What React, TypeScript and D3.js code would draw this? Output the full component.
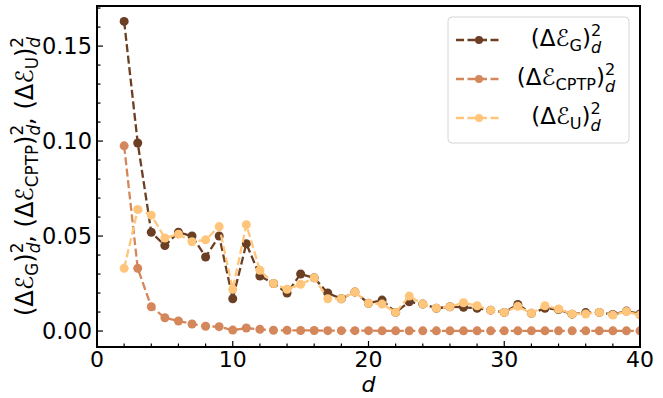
import React from "react";
import * as d3 from "d3";

// d = 2 .. 40
const dims = d3.range(2, 41);

const errG = [
  0.163, 0.099, 0.052, 0.045, 0.052, 0.05, 0.039, 0.05, 0.017, 0.046, 0.029,
  0.025, 0.02, 0.03, 0.028, 0.02, 0.017, 0.0205, 0.0146, 0.0163, 0.0098,
  0.0154, 0.0142, 0.012, 0.0128, 0.0125, 0.012, 0.011, 0.0098, 0.014, 0.0093,
  0.012, 0.0113, 0.0089, 0.0097, 0.0098, 0.0087, 0.0105, 0.009,
];
const errCPTP = [
  0.0975, 0.033, 0.0128, 0.007, 0.0053, 0.0037, 0.0025, 0.0023, 0.0005,
  0.0016, 0.0009, 0.0004, 0.0004, 0.0003, 0.0003, 0.0002, 0.0002, 0.0002,
  0.0002, 0.0001, 0.0001, 0.0001, 0.0001, 0.0001, 0.0001, 0.0001, 0.0001,
  0.0001, 0.0001, 0.0001, 0.0001, 0.0001, 0.0001, 0.0001, 0.0001, 0.0001,
  0.0001, 0.0001, 0.0001,
];
const errU = [
  0.033, 0.064, 0.061, 0.049, 0.051, 0.047, 0.048, 0.055, 0.022, 0.056, 0.032,
  0.025, 0.022, 0.0246, 0.028, 0.017, 0.017, 0.0205, 0.0146, 0.0142, 0.0098,
  0.0184, 0.0142, 0.012, 0.0128, 0.0149, 0.0133, 0.011, 0.0098, 0.013, 0.0093,
  0.0133, 0.0116, 0.009, 0.009, 0.0098, 0.0084, 0.0103, 0.0084,
];

const seriesNames = ["G", "CPTP", "U"];
const seriesColors = ["#6b3f23", "#d4875a", "#ffc57a"];
const seriesValues = [errG, errCPTP, errU];

const xTicks = [0, 10, 20, 30, 40];
const yTicks = [0, 0.05, 0.1, 0.15];

const W = 663;
const H = 398;
const left = 97;
const right = 640;
const top = 6;
const bottom = 347;

const FONT = "'DejaVu Sans', sans-serif";

function MathErr({ sub, s }: { sub: string; s: number }) {
  const k = 0.7 * s;
  return (
    <>
      <tspan>(Δℰ</tspan>
      <tspan fontSize={k} dy={0.22 * s}>{sub}</tspan>
      <tspan dy={-0.22 * s}>)</tspan>
      <tspan fontSize={k} dy={-0.42 * s}>2</tspan>
      <tspan fontSize={k} fontStyle="italic" dx={-k * 0.636} dy={0.72 * s}>
        d
      </tspan>
    </>
  );
}

export default function App() {
  const x = d3.scaleLinear().domain([0, 40]).range([left, right]);
  const y = d3.scaleLinear().domain([-0.0084, 0.1711]).range([bottom, top]);
  const line = d3
    .line<[number, number]>()
    .x((p) => x(p[0]))
    .y((p) => y(p[1]));

  const xMinor = d3.range(0, 41, 2);
  const yMinor = d3.range(0, 0.171, 0.01);

  const s = 23; // legend text size
  const ys = 24; // y label text size

  return (
    <div>
      <style>{`body{margin:0}`}</style>
      <svg width={W} height={H} style={{ display: "block", fontFamily: FONT }}>
        <rect width={W} height={H} fill="white" />

        <defs>
          <clipPath id="plot">
            <rect x={left} y={top} width={right - left} height={bottom - top} />
          </clipPath>
        </defs>

        {/* series */}
        <g clipPath="url(#plot)">
          {seriesValues.map((vals, i) => {
            const pts = dims.map((d, j) => [d, vals[j]] as [number, number]);
            return (
              <g key={seriesNames[i]}>
                <path
                  d={line(pts) || ""}
                  fill="none"
                  stroke={seriesColors[i]}
                  strokeWidth={2.3}
                  strokeDasharray="8,3.5"
                />
                {pts.map((p) => (
                  <circle
                    key={p[0]}
                    cx={x(p[0])}
                    cy={y(p[1])}
                    r={4.5}
                    fill={seriesColors[i]}
                  />
                ))}
              </g>
            );
          })}
        </g>

        {/* ticks, inward */}
        {xMinor.map((v) => (
          <line
            key={"xm" + v}
            x1={x(v)}
            x2={x(v)}
            y1={bottom}
            y2={bottom - (v % 10 === 0 ? 6 : 3.5)}
            stroke="black"
            strokeWidth={1.2}
          />
        ))}
        {yMinor.map((v, i) => (
          <line
            key={"ym" + i}
            x1={left}
            x2={left + (i % 5 === 0 ? 6 : 3.5)}
            y1={y(v)}
            y2={y(v)}
            stroke="black"
            strokeWidth={1.2}
          />
        ))}

        <rect
          x={left}
          y={top}
          width={right - left}
          height={bottom - top}
          fill="none"
          stroke="black"
          strokeWidth={2}
        />

        {xTicks.map((v) => (
          <text
            key={"xt" + v}
            x={x(v)}
            y={367}
            textAnchor="middle"
            fontSize={22}
            fill="black"
          >
            {v}
          </text>
        ))}
        {yTicks.map((v) => (
          <text
            key={"yt" + v}
            x={92}
            y={y(v)}
            dy="0.36em"
            textAnchor="end"
            fontSize={22.5}
            fill="black"
          >
            {v.toFixed(2)}
          </text>
        ))}

        <text
          x={(left + right) / 2}
          y={392}
          textAnchor="middle"
          fontSize={22}
          fontStyle="italic"
        >
          d
        </text>

        <text
          transform={`translate(33,${(top + bottom) / 2}) rotate(-90)`}
          textAnchor="middle"
          fontSize={ys}
        >
          <MathErr sub="G" s={ys} />
          <tspan dy={-0.3 * ys}>, </tspan>
          <MathErr sub="CPTP" s={ys} />
          <tspan dy={-0.3 * ys}>, </tspan>
          <MathErr sub="U" s={ys} />
        </text>

        {/* legend */}
        <rect
          x={448}
          y={17}
          width={181}
          height={126}
          rx={4}
          fill="white"
          fillOpacity={0.8}
          stroke="#d6d6d6"
          strokeWidth={1}
        />
        {seriesNames.map((n, i) => {
          const ly = 40 + i * 39;
          return (
            <g key={"lg" + n}>
              <line
                x1={456}
                x2={502}
                y1={ly}
                y2={ly}
                stroke={seriesColors[i]}
                strokeWidth={2.3}
                strokeDasharray="8,3.5"
              />
              <circle cx={479} cy={ly} r={4} fill={seriesColors[i]} />
              <text x={566} y={ly + 6} textAnchor="middle" fontSize={s}>
                <MathErr sub={n} s={s} />
              </text>
            </g>
          );
        })}
      </svg>
    </div>
  );
}
